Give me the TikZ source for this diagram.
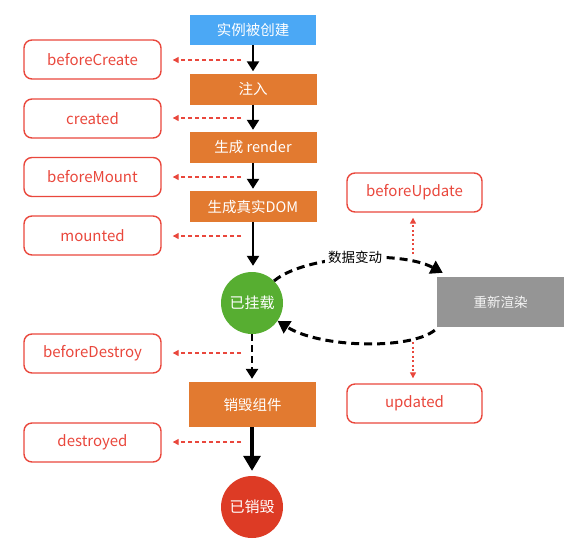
\documentclass[tikz,border=0pt]{standalone}
\usepackage{fontspec}
\setmainfont{Noto Sans CJK SC}
\usetikzlibrary{arrows.meta}
\definecolor{blueC}{HTML}{4BA8F5}
\definecolor{orangeC}{HTML}{E27A30}
\definecolor{greenC}{HTML}{57AE31}
\definecolor{deadC}{HTML}{DD3B25}
\definecolor{grayC}{HTML}{959595}
\definecolor{redC}{HTML}{E9473C}
\begin{document}
\begin{tikzpicture}[x=1pt,y=-1pt,
  proc/.style={fill=orangeC, text=white, minimum width=127pt, minimum height=31pt, inner sep=0pt, font=\fontsize{14.5}{16}\selectfont},
  hook/.style={draw=redC, line width=1.4pt, rounded corners=8pt, text=redC, minimum width=137pt, minimum height=39pt, inner sep=0pt, font=\fontsize{15}{17}\selectfont},
  state/.style={circle, text=white, minimum size=62pt, inner sep=0pt, font=\fontsize{15}{17}\selectfont},
  flow/.style={draw=black, line width=2.3pt, -{Triangle[width=12pt,length=10pt]}},
  hookarrow/.style={draw=redC, line width=1.2pt, dash pattern=on 4pt off 3pt, -{Triangle[width=6pt,length=6pt]}, shorten >=11pt},
  updarrow/.style={draw=redC, line width=1.2pt, dash pattern=on 2pt off 2.5pt, -{Triangle[width=6pt,length=6pt]}, shorten >=5pt},
  loop/.style={draw=black, line width=3pt, dash pattern=on 8pt off 5pt, -{Triangle[width=14pt,length=12pt]}}
]
\useasboundingbox (0,0) rectangle (583,555);
% main column
\node[fill=blueC, text=white, minimum width=126pt, minimum height=30pt, inner sep=0pt, font=\fontsize{14.5}{16}\selectfont] (inst) at (253,30) {实例被创建};
\node[proc] (inject) at (253,89) {注入};
\node[proc] (render) at (253,147.5) {生成 render};
\node[proc] (dom) at (253,206.5) {生成真实DOM};
\node[state, fill=greenC] (live) at (252,303) {已挂载};
\node[proc, minimum height=45pt] (destroy) at (252.5,404.5) {销毁组件};
\node[state, fill=deadC] (dead) at (252,507) {已销毁};
% hooks
\node[hook] (bc) at (92.5,59.5) {beforeCreate};
\node[hook] (cr) at (92.5,118.5) {created};
\node[hook] (bm) at (92.5,177) {beforeMount};
\node[hook] (mt) at (92.5,235.5) {mounted};
\node[hook] (bd) at (92.5,353.5) {beforeDestroy};
\node[hook] (ds) at (92.5,442.5) {destroyed};
\node[hook, minimum width=135pt] (bu) at (414.5,192.5) {beforeUpdate};
\node[hook, minimum width=135pt] (up) at (414.5,403.5) {updated};
% rerender
\node[fill=grayC, text=white!92!gray, minimum width=127pt, minimum height=50pt, inner sep=0pt, font=\fontsize{13.5}{15}\selectfont] (rerender) at (500.5,302) {重新渲染};
% flow arrows
\draw[flow, shorten >=2pt] (inst) -- (inject);
\draw[flow, shorten >=2pt] (inject) -- (render);
\draw[flow, shorten >=2pt] (render) -- (dom);
\draw[flow, shorten >=6pt] (dom.south) -- (dom.south |- live.north);
\draw[flow, dash pattern=on 7pt off 4pt, line width=2.8pt, shorten >=3pt] (live) -- (live |- destroy.north);
\draw[draw=black, line width=3.2pt, -{Triangle[width=17pt,length=15pt]}, shorten >=5pt] (destroy.south -| dead) -- (dead);
% hook arrows
\coordinate (h1) at (241,60);
\coordinate (h2) at (241,118);
\coordinate (h3) at (241,177);
\coordinate (h4) at (241,236);
\coordinate (h5) at (241,353);
\coordinate (h6) at (241,442);
\draw[hookarrow] (h1) -- (bc.east |- h1);
\draw[hookarrow] (h2) -- (cr.east |- h2);
\draw[hookarrow] (h3) -- (bm.east |- h3);
\draw[hookarrow] (h4) -- (mt.east |- h4);
\draw[hookarrow] (h5) -- (bd.east |- h5);
\draw[hookarrow] (h6) -- (ds.east |- h6);
% update loop
\coordinate (u1) at (413,254);
\coordinate (u2) at (413,342);
\draw[updarrow] (u1) -- (u1 |- bu.south);
\draw[updarrow] (u2) -- (u2 |- up.north);
\draw[loop] (live.45) .. controls (305,255) and (400,250) .. ([shift={(6,-4)}]rerender.north west);
\node[fill=white, inner sep=3pt, font=\fontsize{13.5}{15}\selectfont] (lbl) at (355,257) {数据变动};
\draw[loop] ([shift={(-2,3)}]rerender.south west) .. controls (410,350) and (320,348) .. (live.-35);
\end{tikzpicture}
\end{document}
